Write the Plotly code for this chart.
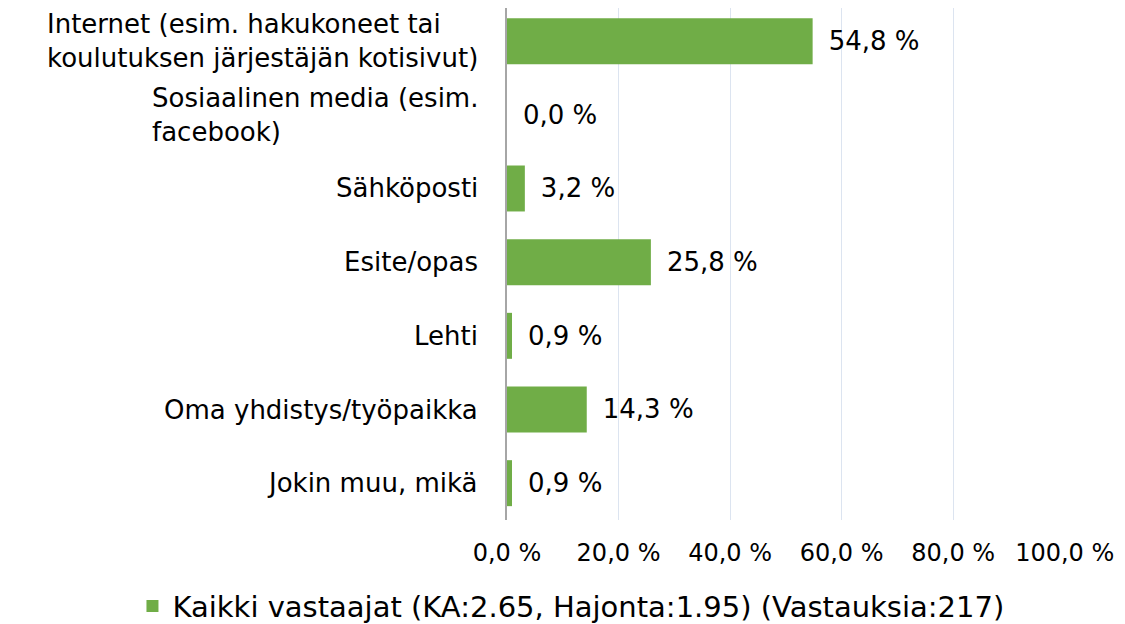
import plotly.graph_objects as go

categories = [
    "Internet (esim. hakukoneet tai<br>koulutuksen järjestäjän kotisivut)",
    "Sosiaalinen media (esim.<br>facebook)",
    "Sähköposti",
    "Esite/opas",
    "Lehti",
    "Oma yhdistys/työpaikka",
    "Jokin muu, mikä",
]
values = [54.8, 0.0, 3.2, 25.8, 0.9, 14.3, 0.9]
series_name = "Kaikki vastaajat (KA:2.65, Hajonta:1.95) (Vastauksia:217)"
x_ticks = [0, 20, 40, 60, 80, 100]
x_tick_labels = ["0,0 %", "20,0 %", "40,0 %", "60,0 %", "80,0 %", "100,0 %"]

FONT = "DejaVu Sans, Liberation Sans, Arial, sans-serif"
GREEN = "#70AD47"

fig = go.Figure()
fig.add_trace(go.Bar(
    x=values,
    y=categories,
    orientation="h",
    name=series_name,
    marker=dict(color=GREEN, line=dict(width=0)),
    texttemplate="\u2002%{x:.1f} %",
    textposition="outside",
    cliponaxis=False,
    textfont=dict(family=FONT, size=26, color="#000000"),
))

for cat in categories:
    fig.add_annotation(
        x=0, xref="paper", y=cat, yref="y",
        text=cat, showarrow=False,
        xanchor="right", yanchor="middle", align="left",
        xshift=-27,
        font=dict(family=FONT, size=26, color="#000000"),
    )

fig.update_layout(
    width=1117, height=616,
    autosize=False,
    margin=dict(l=499, r=60, t=0, b=104, pad=0),
    plot_bgcolor="white", paper_bgcolor="white",
    separators=", ",
    bargap=0.376,
    showlegend=True,
    legend=dict(
        orientation="h",
        xref="container", yref="container",
        x=0.504, xanchor="center", y=0.029, yanchor="middle",
        font=dict(family=FONT, size=29, color="#000000"),
    ),
    font=dict(family=FONT, size=26, color="#000000"),
)
fig.update_xaxes(
    range=[0, 100.05],
    tickmode="array",
    tickvals=x_ticks,
    ticktext=x_tick_labels,
    tickangle=0,
    showgrid=True, gridcolor="#DCE4F0", gridwidth=1,
    zeroline=False,
    ticks="outside", ticklen=11, tickcolor="rgba(0,0,0,0)",
    tickfont=dict(family=FONT, size=24, color="#000000"),
    fixedrange=True,
)
fig.update_yaxes(
    range=[6.5, -0.45],
    showticklabels=False,
    showline=True, linecolor="#A6A6A6", linewidth=1.5,
    showgrid=False,
    fixedrange=True,
)

fig.write_html("out.html")
